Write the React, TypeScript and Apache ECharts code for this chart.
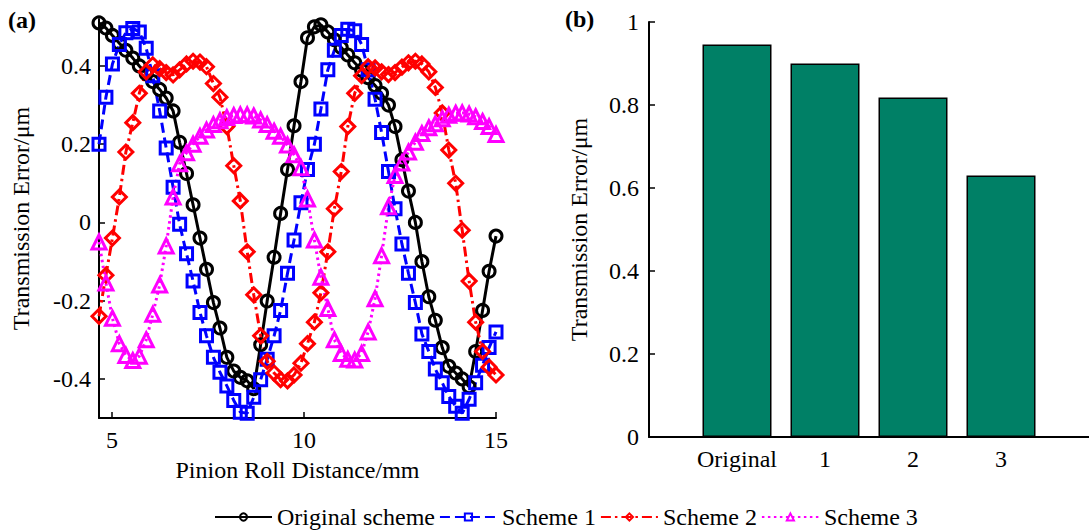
import React, { useEffect, useRef } from 'react';
import * as echarts from 'echarts';

// Pinion roll distance (mm) of each sample
const xPositions = [
  4.66, 4.84, 5.01, 5.19, 5.36, 5.54, 5.71, 5.89, 6.06, 6.24,
  6.41, 6.59, 6.76, 6.94, 7.11, 7.29, 7.46, 7.64, 7.81, 7.99,
  8.17, 8.34, 8.52, 8.69, 8.87, 9.04, 9.22, 9.39, 9.57, 9.74,
  9.92, 10.09, 10.27, 10.44, 10.62, 10.79, 10.97, 11.14, 11.32, 11.5,
  11.67, 11.85, 12.02, 12.2, 12.37, 12.55, 12.72, 12.9, 13.07, 13.25,
  13.42, 13.6, 13.77, 13.95, 14.12, 14.3, 14.47, 14.65, 14.82, 15.0,
];

const originalScheme = [
  0.51, 0.497, 0.478, 0.458, 0.44, 0.42, 0.4, 0.38, 0.36, 0.34,
  0.318, 0.285, 0.205, 0.125, 0.045, -0.04, -0.12, -0.205, -0.27, -0.345,
  -0.38, -0.396, -0.405, -0.425, -0.313, -0.201, -0.089, 0.023, 0.135, 0.247,
  0.36, 0.472, 0.5, 0.505, 0.487, 0.467, 0.447, 0.428, 0.408, 0.389,
  0.37, 0.35, 0.33, 0.3, 0.245, 0.16, 0.08, 0.0, -0.1, -0.19,
  -0.25, -0.32, -0.368, -0.385, -0.4, -0.42, -0.33, -0.225, -0.125, -0.035,
];

const scheme1 = [
  0.2, 0.32, 0.405, 0.455, 0.485, 0.496, 0.487, 0.445, 0.375, 0.285,
  0.19, 0.09, -0.005, -0.08, -0.15, -0.23, -0.29, -0.345, -0.383, -0.418,
  -0.455, -0.485, -0.488, -0.447, -0.402, -0.35, -0.29, -0.225, -0.13, -0.045,
  0.05, 0.135, 0.2, 0.29, 0.39, 0.44, 0.478, 0.494, 0.49, 0.455,
  0.39, 0.315, 0.23, 0.13, 0.035, -0.055, -0.13, -0.205, -0.285, -0.33,
  -0.375, -0.41, -0.445, -0.47, -0.488, -0.452, -0.41, -0.365, -0.32, -0.28,
];

const scheme2 = [
  -0.24, -0.135, -0.04, 0.065, 0.18, 0.255, 0.33, 0.385, 0.403, 0.393,
  0.383, 0.377, 0.39, 0.405, 0.412, 0.41, 0.398, 0.355, 0.32, 0.245,
  0.145, 0.055, -0.075, -0.185, -0.29, -0.355, -0.385, -0.402, -0.405, -0.39,
  -0.36, -0.31, -0.255, -0.18, -0.075, 0.035, 0.13, 0.245, 0.33, 0.375,
  0.398, 0.395, 0.385, 0.378, 0.383, 0.397, 0.408, 0.412, 0.405, 0.385,
  0.345, 0.28, 0.185, 0.1, -0.02, -0.15, -0.255, -0.33, -0.37, -0.39,
];

const scheme3 = [
  -0.05, -0.155, -0.245, -0.31, -0.34, -0.353, -0.342, -0.3, -0.235, -0.16,
  -0.06, 0.065, 0.15, 0.178, 0.2, 0.22, 0.236, 0.25, 0.26, 0.268,
  0.273, 0.275, 0.275, 0.272, 0.262, 0.25, 0.233, 0.22, 0.198, 0.173,
  0.14, 0.06, -0.045, -0.14, -0.22, -0.3, -0.335, -0.35, -0.352, -0.335,
  -0.28, -0.195, -0.085, 0.04, 0.12, 0.152, 0.18, 0.205, 0.227, 0.242,
  0.252, 0.265, 0.274, 0.279, 0.28, 0.277, 0.27, 0.258, 0.245, 0.225,
];

const lineXTicks = [5, 10, 15];
const lineYTicks = [-0.4, -0.2, 0, 0.2, 0.4];

const barCategories = ['Original', '1', '2', '3'];
const barPositions = [1, 2, 3, 4];
const barValues = [0.946, 0.9, 0.818, 0.63];

const FONT = '"Liberation Serif", "Times New Roman", serif';

const pairs = (ys: number[]) => xPositions.map((x, i) => [x, ys[i]]);

const axisLineStyle = { color: '#000', width: 2 };
const labelStyle = { color: '#000', fontSize: 24, fontFamily: FONT };

function lineSeries(
  name: string,
  ys: number[],
  color: string,
  symbol: string,
  size: number,
  dash: any,
  width: number,
) {
  return {
    name,
    type: 'line',
    xAxisIndex: 0,
    yAxisIndex: 0,
    data: pairs(ys),
    symbol,
    symbolSize: size,
    showSymbol: true,
    showAllSymbol: true,
    clip: false,
    color,
    lineStyle: { color, width, type: dash },
    itemStyle: { color: 'rgba(255,255,255,0)', borderColor: color, borderWidth: 3 },
    emphasis: { disabled: true },
  };
}

const option: any = {
  animation: false,
  backgroundColor: '#fff',
  textStyle: { fontFamily: FONT },
  graphic: [
    {
      type: 'text',
      left: 8,
      top: 8,
      style: { text: '(a)', fontSize: 24, fontWeight: 'bold', fontFamily: FONT, fill: '#000' },
    },
    {
      type: 'text',
      left: 565,
      top: 7,
      style: { text: '(b)', fontSize: 24, fontWeight: 'bold', fontFamily: FONT, fill: '#000' },
    },
  ],
  legend: {
    data: ['Original scheme', 'Scheme 1', 'Scheme 2', 'Scheme 3'],
    left: 214,
    top: 505,
    padding: 0,
    itemWidth: 57,
    itemHeight: 9,
    itemGap: 4,
    selectedMode: false,
    textStyle: labelStyle,
  },
  grid: [
    { left: 99, top: 19, width: 397, height: 399 },
    { left: 649, top: 22, width: 443, height: 415 },
  ],
  xAxis: [
    {
      gridIndex: 0,
      type: 'value',
      min: 4.66,
      max: 15,
      axisLine: { show: true, onZero: false, lineStyle: axisLineStyle },
      axisTick: { show: true, inside: true, length: 6, customValues: lineXTicks, lineStyle: { color: '#000', width: 1.5 } },
      axisLabel: { ...labelStyle, customValues: lineXTicks, margin: 10 },
      splitLine: { show: false },
      name: 'Pinion Roll Distance/mm',
      nameLocation: 'middle',
      nameGap: 40,
      nameTextStyle: labelStyle,
    },
    {
      gridIndex: 1,
      type: 'value',
      min: 0,
      max: 5,
      axisLine: { show: true, onZero: false, lineStyle: axisLineStyle },
      axisTick: { show: false },
      axisLabel: {
        ...labelStyle,
        customValues: barPositions,
        margin: 10,
        formatter: (v: number) => {
          const i = barPositions.indexOf(v);
          return i >= 0 ? barCategories[i] : '';
        },
      },
      splitLine: { show: false },
    },
  ],
  yAxis: [
    {
      gridIndex: 0,
      type: 'value',
      min: -0.5,
      max: 0.52,
      axisLine: { show: true, onZero: false, lineStyle: axisLineStyle },
      axisTick: { show: true, inside: true, length: 6, customValues: lineYTicks, lineStyle: { color: '#000', width: 1.5 } },
      axisLabel: { ...labelStyle, customValues: lineYTicks, margin: 8 },
      splitLine: { show: false },
      name: 'Transmission Error/μm',
      nameLocation: 'middle',
      nameGap: 66,
      nameRotate: 90,
      nameTextStyle: labelStyle,
    },
    {
      gridIndex: 1,
      type: 'value',
      min: 0,
      max: 1,
      interval: 0.2,
      axisLine: { show: true, onZero: false, lineStyle: axisLineStyle },
      axisTick: { show: true, inside: true, length: 6, lineStyle: { color: '#000', width: 1.5 } },
      axisLabel: { ...labelStyle, margin: 10 },
      splitLine: { show: false },
      name: 'Transmission Error/μm',
      nameLocation: 'middle',
      nameGap: 58,
      nameRotate: 90,
      nameTextStyle: labelStyle,
    },
  ],
  series: [
    lineSeries('Original scheme', originalScheme, '#000000', 'circle', 12, 'solid', 3),
    lineSeries('Scheme 1', scheme1, '#0000ff', 'rect', 12, [10, 5], 3),
    lineSeries('Scheme 2', scheme2, '#ff0000', 'diamond', 14, [10, 4, 2.5, 4], 3),
    lineSeries('Scheme 3', scheme3, '#ff00ff', 'triangle', 14, [2.5, 3.5], 3),
    {
      name: 'bars',
      type: 'bar',
      xAxisIndex: 1,
      yAxisIndex: 1,
      data: barPositions.map((p, i) => [p, barValues[i]]),
      barWidth: 69,
      itemStyle: { color: '#008066', borderColor: '#000', borderWidth: 1.5 },
      emphasis: { disabled: true },
    },
  ],
};

export default function App() {
  const ref = useRef<HTMLDivElement>(null);
  useEffect(() => {
    document.body.style.margin = '0';
    const chart = echarts.init(ref.current!, null, { renderer: 'svg' });
    chart.setOption(option);
    return () => chart.dispose();
  }, []);
  return <div ref={ref} style={{ width: 1089, height: 530 }} />;
}
